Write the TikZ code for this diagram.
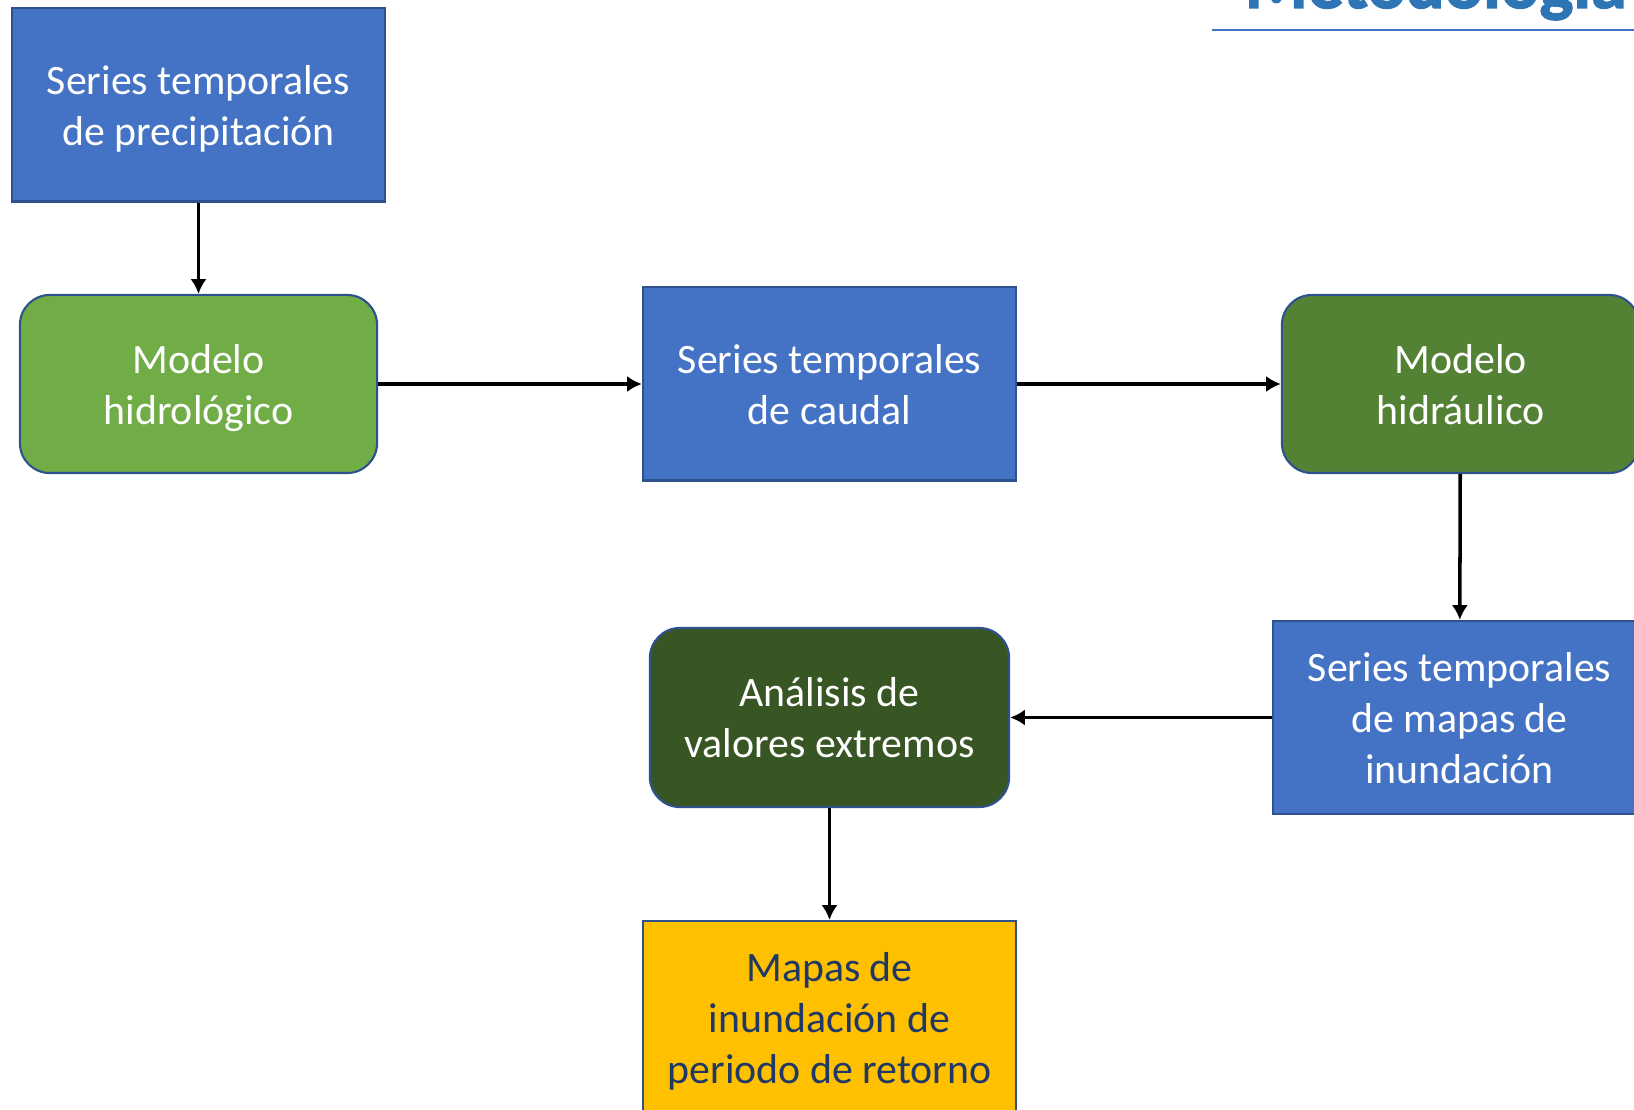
\documentclass[tikz,border=0pt]{standalone}
\usepackage{fontspec}
\setmainfont{Carlito}
\newfontfamily\titlefont{Carlito Bold}[FakeBold=2]
\usepackage{tikz}
\usetikzlibrary{arrows.meta}
\usetikzlibrary{positioning}
\definecolor{mblue}{HTML}{4472C4}
\definecolor{mborder}{HTML}{2F528F}
\definecolor{mlgreen}{HTML}{70AD47}
\definecolor{mgreen}{HTML}{548235}
\definecolor{mdgreen}{HTML}{375623}
\definecolor{myellow}{HTML}{FFC000}
\definecolor{mnavy}{HTML}{203864}
\definecolor{mtitle}{HTML}{2E75B6}

\begin{document}
\begin{tikzpicture}[x=0.01cm, y=-0.01cm,
    databox/.style={draw=mborder, line width=0.6pt, fill=mblue, text=white, align=center, inner sep=0pt, text depth=0pt, minimum width=3.73cm, minimum height=1.93cm, font=\fontsize{11.9}{14.5}\selectfont},
    modelbox/.style={databox, rounded corners=0.3cm, minimum width=3.57cm, minimum height=1.78cm},
    link/.style={black, line width=1pt, -{Latex[length=4.2pt, width=4.6pt]}}]
    \useasboundingbox (0, 0) rectangle (1634, 1110);

    \node [databox] (prec) at (198.5, 105) {Series temporales\\de precipitación};
    \node [modelbox, fill=mlgreen] (hidrol) at (198.5, 384) {Modelo\\hidrológico};
    \node [databox] (caudal) at (829.5, 384) {Series temporales\\de caudal};
    \node [modelbox, fill=mgreen] (hidrau) at (1460.5, 384) {Modelo\\hidráulico};
    \node [databox] (mapas) at (1459.5, 717.5) {Series temporales\\de mapas de\\inundación};
    \node [modelbox, fill=mdgreen, minimum width=3.59cm, minimum height=1.79cm] (extremos) at (829.5, 717.5) {Análisis de\\valores extremos};
    \node [databox, fill=myellow, text=mnavy] (retorno) at (829.5, 1017.5) {Mapas de\\inundación de\\periodo de retorno};

    \draw [link] (prec) -- (hidrol);
    \draw [link] (hidrol) -- (caudal);
    \draw [link] (caudal) -- (hidrau);
    \draw [link] (hidrau) -- (mapas);
    \draw [link] (mapas) -- (extremos);
    \draw [link] (extremos) -- (retorno);

    \node [anchor=base east, text=mtitle, font=\fontsize{20.4}{24}\selectfont\titlefont, inner sep=0pt] (titulo) at (1627, 8) {Metodología};
    \draw [mblue, line width=0.6pt] (1212, 30) -- (1634, 30);
  \end{tikzpicture}
\end{document}
